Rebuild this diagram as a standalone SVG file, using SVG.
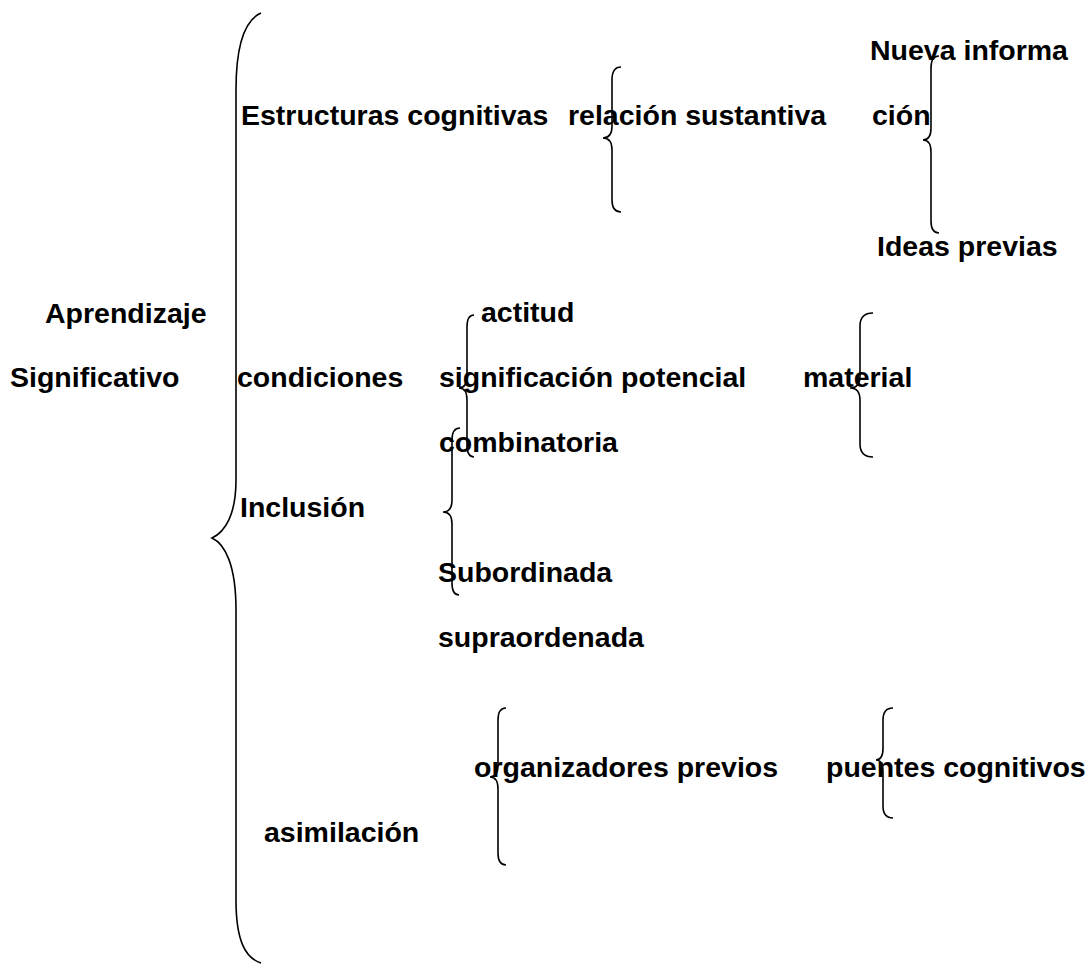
<svg xmlns="http://www.w3.org/2000/svg" width="1090" height="965" viewBox="0 0 1090 965">
<style>
text{font-family:"Liberation Sans",Arial,sans-serif;font-weight:bold;font-size:28.5px;fill:#000}
.b{fill:none;stroke:#000;stroke-width:1.6}
</style>
<rect width="1090" height="965" fill="#fff"/>
<g id="connectors">
<path class="b" d="M261,13 C245,20 236,45 236,90 L236,480 C236,515 225,532 212,538 C225,544 236,565 236,610 L236,900 C236,940 245,958 261,963"/>
<path class="b" d="M621,67 Q612,67 612,80 L612,126 Q612,138 603,138 Q612,138 612,150 L612,200 Q612,212 621,212"/>
<path class="b" d="M939,56 Q931,56 931,68 L931,128 Q931,140 923,140 Q931,140 931,152 L931,221 Q931,233 939,233"/>
<path class="b" d="M474,315 Q467,315 467,327 L467,376 Q467,388 459,388 Q467,388 467,400 L467,445 Q467,457 474,457"/>
<path class="b" d="M460,428 Q452,428 452,440 L452,500 Q452,512 443,512 Q452,512 452,524 L452,583 Q452,595 459,595"/>
<path class="b" d="M873,313 Q860,313 860,326 L860,376 Q860,388 850,388 Q860,388 860,400 L860,444 Q860,457 873,457"/>
<path class="b" d="M506,708 Q498,708 498,720 L498,765 Q498,777 490,777 Q498,777 498,789 L498,853 Q498,865 506,865"/>
<path class="b" d="M893,708 Q883,708 883,720 L883,748 Q883,760 876,760 Q883,760 883,772 L883,806 Q883,818 893,818"/>
</g>
<g id="n-root"><text x="45" y="323">Aprendizaje</text><text x="10" y="387">Significativo</text></g>
<g id="n-estructuras"><text x="241" y="125">Estructuras cognitivas</text></g>
<g id="n-relacion"><text x="568" y="125">relación sustantiva</text></g>
<g id="n-nueva"><text x="870" y="60">Nueva informa</text><text x="872" y="125">ción</text></g>
<g id="n-ideas"><text x="877" y="256">Ideas previas</text></g>
<g id="n-actitud"><text x="481" y="322">actitud</text></g>
<g id="n-condiciones"><text x="237" y="387">condiciones</text></g>
<g id="n-significacion"><text x="439" y="387">significación potencial</text></g>
<g id="n-material"><text x="803" y="387">material</text></g>
<g id="n-combinatoria"><text x="439" y="452">combinatoria</text></g>
<g id="n-inclusion"><text x="240" y="517">Inclusión</text></g>
<g id="n-subordinada"><text x="438" y="582">Subordinada</text></g>
<g id="n-supraordenada"><text x="438" y="647">supraordenada</text></g>
<g id="n-organizadores"><text x="474" y="777">organizadores previos</text></g>
<g id="n-puentes"><text x="826" y="777">puentes cognitivos</text></g>
<g id="n-asimilacion"><text x="264" y="842">asimilación</text></g>
</svg>
